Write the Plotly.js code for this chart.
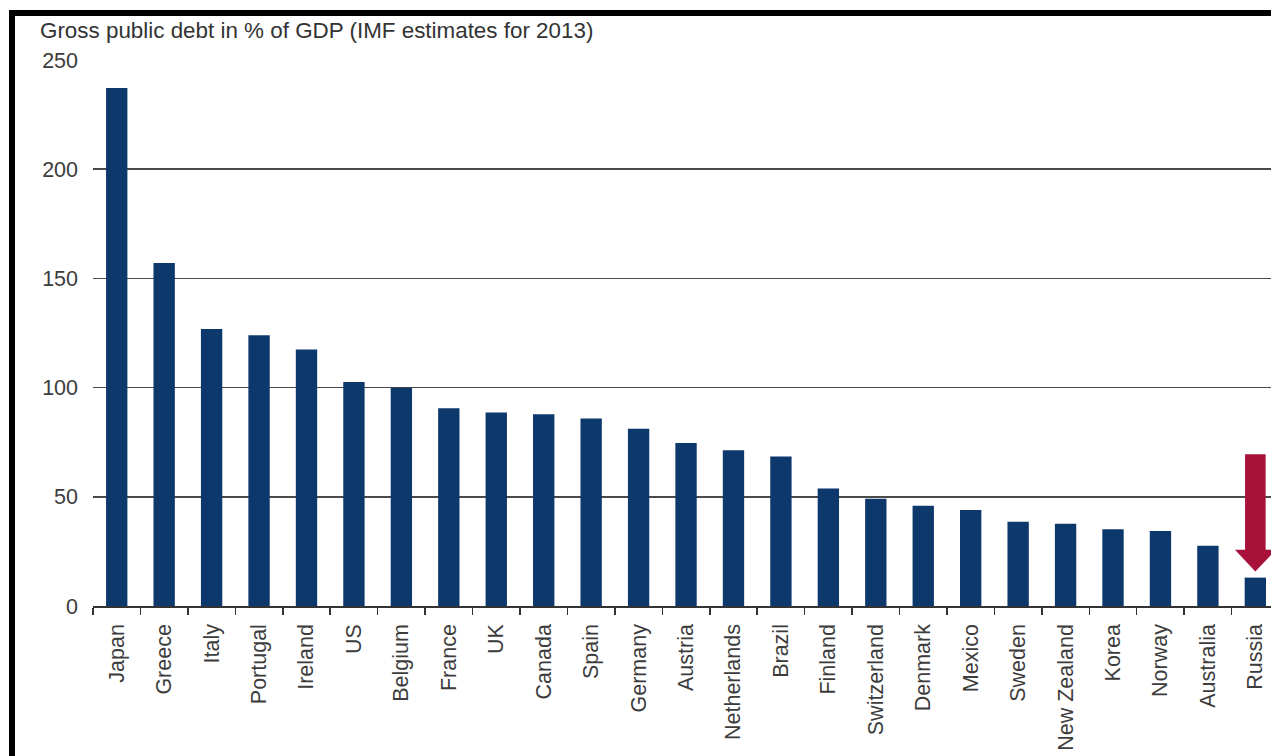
<!DOCTYPE html>
<html>
<head>
<meta charset="utf-8">
<script src="https://cdn.plot.ly/plotly-3.0.1.min.js"></script>
<style>
  html, body { margin: 0; padding: 0; background: #ffffff; }
  #wrap { position: relative; width: 1271px; height: 756px; overflow: hidden; }
  #chart { position: absolute; left: 0; top: 0; width: 1271px; height: 756px; }
  .bt { position: absolute; left: 9px; top: 10px; width: 1262px; height: 6px; background: #000; }
  .bl { position: absolute; left: 9px; top: 10px; width: 6px; height: 746px; background: #000; }
</style>
</head>
<body>
<div id="wrap">
  <div id="chart"></div>
  <div class="bt"></div>
  <div class="bl"></div>
</div>
<script>
// Data
const categories = ["Japan", "Greece", "Italy", "Portugal", "Ireland", "US", "Belgium", "France", "UK", "Canada",
  "Spain", "Germany", "Austria", "Netherlands", "Brazil", "Finland", "Switzerland", "Denmark", "Mexico",
  "Sweden", "New Zealand", "Korea", "Norway", "Australia", "Russia"];
const debtPctGDP = [237.2, 157.0, 126.8, 124.0, 117.5, 102.6, 99.9, 90.6, 88.6, 87.8,
  85.9, 81.2, 74.6, 71.3, 68.5, 53.8, 49.1, 45.9, 43.9,
  38.6, 37.7, 35.1, 34.3, 27.6, 13.0];
const yTickVals = [0, 50, 100, 150, 200, 250];
const titleText = "Gross public debt in % of GDP (IMF estimates for 2013)";

const idx = categories.map((c, i) => i);
const boundaries = categories.map((c, i) => i - 0.5).concat([categories.length - 0.5]);

const fontFam = '"Liberation Sans", Arial, Helvetica, sans-serif';
const textColor = '#3c3c3c';

// Arrow pointing at Russia (annotation decoration)
const ri = categories.indexOf("Russia");
const sw = 0.217, hw = 0.43, yTop = 69.5, yHead = 25.7, yTip = 15.8;
const arrowPath = `M ${ri - sw},${yTop} L ${ri + sw},${yTop} L ${ri + sw},${yHead} L ${ri + hw},${yHead} ` +
  `L ${ri},${yTip} L ${ri - hw},${yHead} L ${ri - sw},${yHead} Z`;

const trace = {
  type: 'bar',
  x: idx,
  y: debtPctGDP,
  width: 0.45,
  marker: { color: '#0d386c', line: { width: 0 } },
  hoverinfo: 'x+y'
};

const layout = {
  width: 1271,
  height: 756,
  margin: { l: 93, r: 0, t: 60, b: 150 },
  paper_bgcolor: '#ffffff',
  plot_bgcolor: '#ffffff',
  showlegend: false,
  font: { family: fontFam, color: textColor, size: 21 },
  title: {
    text: titleText,
    font: { family: fontFam, size: 22.4, color: '#333333' },
    x: 40 / 1271, xanchor: 'left', xref: 'container',
    y: 1 - 22 / 756, yanchor: 'top', yref: 'container'
  },
  xaxis: {
    type: 'linear',
    range: [-0.5, 24.33],
    tickmode: 'array',
    tickvals: idx,
    ticktext: categories,
    tickangle: -90,
    ticks: '',
    ticklabelstandoff: 8,
    tickfont: { family: fontFam, size: 21.5, color: textColor },
    showgrid: false,
    zeroline: false,
    showline: true,
    linecolor: '#333333',
    linewidth: 1.5,
    minor: {
      tickmode: 'array',
      tickvals: boundaries,
      ticks: 'outside',
      ticklen: 7,
      tickwidth: 1.5,
      tickcolor: '#333333',
      showgrid: false
    },
    fixedrange: true
  },
  yaxis: {
    range: [0, 250],
    tickmode: 'array',
    tickvals: yTickVals,
    ticks: '',
    ticklabelstandoff: 14,
    tickfont: { family: fontFam, size: 21.5, color: textColor },
    showgrid: true,
    gridcolor: '#4a4a4a',
    gridwidth: 1.5,
    zeroline: false,
    showline: false,
    fixedrange: true
  },
  shapes: [{
    type: 'path',
    xref: 'x', yref: 'y',
    path: arrowPath,
    fillcolor: '#a8123a',
    line: { width: 0 },
    layer: 'above'
  }]
};

Plotly.newPlot('chart', [trace], layout, { displayModeBar: false, staticPlot: true });
</script>
</body>
</html>
